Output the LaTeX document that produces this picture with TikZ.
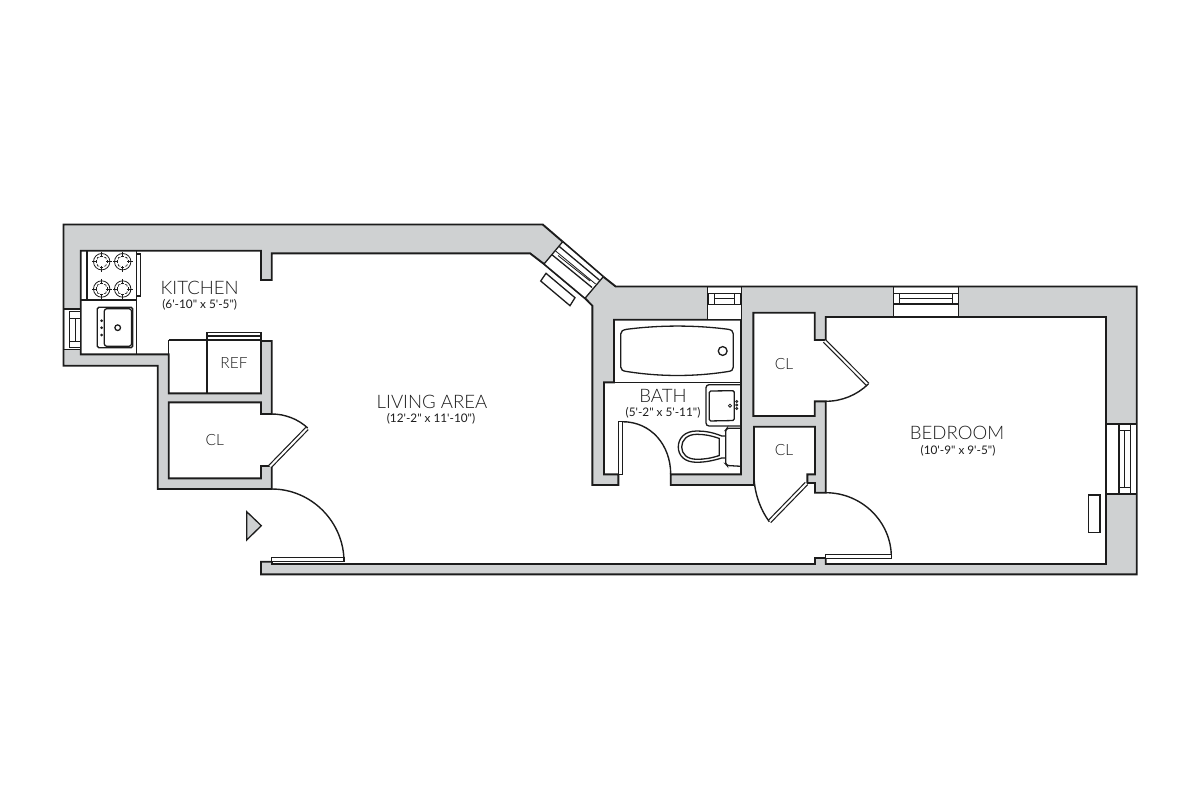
\documentclass[tikz,border=0pt]{standalone}
\usepackage{fontspec}
\setmainfont{Lato Light}
\newfontfamily\dimfont{Lato}
\definecolor{wallgray}{HTML}{CFD1D2}
\definecolor{ink}{HTML}{1C1C1C}
\newcommand{\burnermark}[2]{%
  \begin{scope}[shift={(#1,#2)}]
    \draw[hairline] (0,0) circle (8.2);
    \foreach \a in {0,90,180,270}{\draw[hairline,rotate=\a] (4.6,0) -- (10,0);
      \draw[hairline,rotate=\a] (5.6,-1.6) -- (5.6,1.6);}
    \foreach \a in {45,135,225,315}{\draw[hairline,line width=0.6pt,rotate=\a] (4.8,-1.6) -- (5.9,0) -- (4.8,1.6);}
  \end{scope}}
\tikzset{
  wall/.style={fill=wallgray,draw=ink,line width=1.9pt,line join=miter},
  thinline/.style={draw=ink,line width=1.3pt},
  hairline/.style={draw=ink,line width=0.8pt},
  fixture/.style={draw=ink,line width=1.3pt,fill=white},
  windowgap/.style={fill=white,draw=none},
  doorleaf/.style={draw=ink,line width=1.2pt,double=white,double distance=2pt},
  swing/.style={draw=ink,line width=1.4pt},
  room/.style={font=\fontsize{18.6}{19}\selectfont,text=ink,inner sep=0pt},
  dims/.style={font=\dimfont\fontsize{11.8}{13}\selectfont,text=ink,inner sep=0pt},
  small/.style={font=\fontsize{15.5}{16}\selectfont,text=ink,inner sep=0pt},
}
\begin{document}
\begin{tikzpicture}[x=1pt,y=-1pt]
\useasboundingbox (0,0) rectangle (1200,800);
% walls
\draw[wall] (261,561.7) -- (272,561.7) -- (272,564) -- (815,564) -- (815,558) -- (825.7,558) -- (825.7,564) -- (1106,564)
  -- (1106,317) -- (825.7,317) -- (825.7,340) -- (814.7,340) -- (814.7,312.7) -- (753.3,312.7) -- (753.3,416) -- (814.7,416)
  -- (814.7,401.3) -- (825.7,401.3) -- (825.7,492.7) -- (815,492.7) -- (815,483) -- (807.3,483) -- (807.3,474.3) -- (815,474.3)
  -- (815,426.7) -- (754,426.7) -- (754,485) -- (670.7,485) -- (670.7,474.3) -- (741,474.3) -- (741,319.7) -- (614,319.7)
  -- (614,382.3) -- (604,382.3) -- (604,474.3) -- (618.3,474.3) -- (618.3,485) -- (592.3,485) -- (592.3,305.7) -- (585,298.3)
  -- (544,264) -- (530,253.3) -- (271.7,253.3) -- (271.7,280) -- (261,280) -- (261,250.7) -- (80.7,250.7) -- (80.7,354.3)
  -- (168.7,354.3) -- (168.7,393.3) -- (261,393.3) -- (261,341) -- (271.7,341) -- (271.7,414) -- (261,414) -- (261,402.3)
  -- (168.7,402.3) -- (168.7,478.3) -- (261,478.3) -- (261,466) -- (271.7,466) -- (271.7,489) -- (157.7,489) -- (157.7,365.7)
  -- (63.5,365.7) -- (63.5,224.5) -- (542.7,224.5) -- (562.7,241.7) -- (603.3,276.7) -- (615.7,286.5) -- (1136.7,286.5)
  -- (1136.7,574.3) -- (261,574.3) -- cycle;
% bath partition line under tub
\draw[thinline] (604,382.3) -- (741,382.3);
% left window
\fill[windowgap] (64.5,309) rectangle (79.8,349.3);
\draw[thinline] (63.5,309) -- (80.7,309) (63.5,349.3) -- (80.7,349.3);
\draw[thinline] (69.3,311.7) rectangle (80.7,347.7);
\draw[hairline] (69.3,318.3) -- (80.7,318.3) (69.3,341.7) -- (80.7,341.7) (75,318.3) -- (75,341.7);
% diagonal window
\fill[windowgap] (562.7,241.7) -- (603.3,276.7) -- (585,298.3) -- (544,264) -- cycle;
\draw[thinline] (562.7,241.7) -- (544,264) (603.3,276.7) -- (585,298.3) (562.7,241.7) -- (603.3,276.7) (544,264) -- (585,298.3);
\draw[thinline] (559.3,246.5) -- (599.3,280) (552.3,255) -- (592,287.5);
\draw[hairline] (555.6,251) -- (595.6,284) (558,255.5) -- (590,281);
% radiator diagonal
\draw[fixture] (546,273.3) -- (575,297.7) -- (570,305.7) -- (540.7,281) -- cycle;
% top small window
\fill[windowgap] (707.7,287.5) rectangle (740.7,318.7);
\draw[thinline] (707.7,286.5) -- (707.7,319.7) (741.7,286.5) -- (741.7,319.7);
\draw[thinline] (708.3,293.3) rectangle (740.7,304.3);
\draw[hairline] (714.3,293.3) rectangle (734,304.3) (714.3,298.3) -- (734,298.3);
% bedroom top window
\fill[windowgap] (893.3,287.5) rectangle (958.3,316);
\draw[thinline] (893.3,286.5) -- (893.3,317) (958.3,286.5) -- (958.3,317);
\draw[thinline] (893.3,293.3) -- (958.3,293.3) (893.3,304) -- (958.3,304);
\draw[hairline] (899.3,293.3) rectangle (952.7,304) (899.3,298.3) -- (952.7,298.3);
% right window
\fill[windowgap] (1107,424) rectangle (1135.7,494);
\draw[thinline] (1106,424) -- (1136.7,424) (1106,494) -- (1136.7,494);
\draw[thinline] (1119,424) rectangle (1130.3,494);
\draw[hairline] (1119,430.7) -- (1130.3,430.7) (1119,487.3) -- (1130.3,487.3) (1124.3,430.7) -- (1124.3,487.3);
% radiator bedroom
\draw[thinline] (1088.7,495) rectangle (1100,532.3);
% kitchen
\draw[thinline] (136.7,250.7) -- (136.7,354.3) (80.7,300) -- (136.7,300) (87,250.7) -- (87,300);
\draw[thinline] (136.7,254) rectangle (140.7,296);
\burnermark{101.7}{261.7}\burnermark{122.7}{261.7}\burnermark{101.7}{289}\burnermark{122.7}{289}
\draw[thinline,rounded corners=1.5pt] (97.3,307.3) rectangle (132.7,347.7);
\draw[thinline,rounded corners=2.5pt] (104.3,308.7) rectangle (131.5,346.3);
\draw[thinline] (117.7,327.7) circle (2.8);
\foreach \yy in {320.7,327.7,335}{\fill[ink] (101.7,\yy) circle (1.5);}
% ref
\draw[thinline] (168.7,340) -- (168.7,354.3) (168.7,340) -- (261,340) (207,340) -- (207,393.3);
\draw[thinline] (207,340) -- (207,332.7) -- (261,332.7) -- (261,340) (207,336) -- (261,336);
% closet door 1
\draw[doorleaf] (270,466.5) -- (307,428.5);
\draw[swing] (271.7,414) .. controls (285,414) and (298,419) .. (307.7,428);
% entry door
\draw[swing] (271.7,489) .. controls (311.5,489) and (344,522) .. (344,561.7);
\draw[thinline,fill=white] (271.7,557.7) rectangle (344,561.7);
% entry marker
\draw[thinline,fill=wallgray] (246.7,511.7) -- (261.3,525.7) -- (246.7,540) -- cycle;
% tub
\draw[thinline] (626.7,329.3) .. controls (660,325) and (695,325) .. (728.3,329.3)
  .. controls (731.5,330) and (733.3,331) .. (733.3,334) -- (733.3,367)
  .. controls (733.3,370) and (731.5,371) .. (728.3,371.5)
  .. controls (695,376.8) and (660,376.8) .. (626.7,371.5)
  .. controls (623,371) and (620.7,370) .. (620.7,367) -- (620.7,334)
  .. controls (620.7,331) and (623,330) .. (626.7,329.3) -- cycle;
\draw[thinline] (722.7,351) circle (4.4);
% bath door
\draw[thinline,fill=white] (618.3,421.7) rectangle (622.3,474.3);
\draw[swing] (622.3,421.7) .. controls (651,421.7) and (670.7,445) .. (670.7,474.3);
% bath sink
\draw[thinline,rounded corners=3pt] (741,384.7) -- (706,384.7) -- (706,426) -- (741,426);
\draw[thinline,rounded corners=1.5pt] (709.3,391) -- (734.3,390.7) -- (734.3,420.5) -- (709.3,421) -- cycle;
\draw[hairline] (730,405.7) circle (1.6);
\foreach \yy in {401.5,405,408.5}{\draw[hairline] (736.7,\yy) circle (1.1);}
% toilet
\draw[thinline,rounded corners=1.5pt] (741,428.3) -- (727,428.3) -- (725.7,430) -- (725.7,464) -- (727,465.5) -- (741,466.3);
\draw[thinline] (725.7,436) -- (721.7,436) .. controls (712,432) and (704,431) .. (696.7,431)
  .. controls (685,431) and (678.3,438) .. (678.3,447)
  .. controls (678.3,456) and (685,462.3) .. (696.7,462.3)
  .. controls (704,462.3) and (712,461) .. (721.7,458) -- (725.7,458);
\draw[thinline] (719.3,438.5) .. controls (711,435.5) and (704,434.3) .. (697,434.3)
  .. controls (687,434.3) and (681.7,440) .. (681.7,447)
  .. controls (681.7,454) and (687,459.3) .. (697,459.3)
  .. controls (704,459.3) and (711,458.3) .. (719.3,455.5) -- cycle;
% bedroom closet doors
\draw[doorleaf] (824.5,341) -- (867.8,384.5);
\draw[swing] (825.7,401.3) .. controls (842,401.3) and (857,395) .. (868.3,384);
\draw[doorleaf] (806.5,483.5) -- (769.5,521.5);
\draw[swing] (754,475) .. controls (754,492) and (760,509) .. (769.3,521.7);
% bedroom door
\draw[swing] (825.7,492.7) .. controls (862,492.7) and (891.3,522) .. (891.3,556.7);
\draw[thinline,fill=white] (825.7,554.3) rectangle (891.3,558.3);
% labels
\node[room] (kitchen) at (199.7,287.7) {KITCHEN};
\node[dims] (kitchendim) at (199.7,304.8) {(6'-10" x 5'-5")};
\node[small] (ref) at (234,362.7) {REF};
\node[small] (cla) at (214.7,440) {CL};
\node[room] (living) at (432,402) {LIVING AREA};
\node[dims] (livingdim) at (431,418.5) {(12'-2" x 11'-10")};
\node[room] (bath) at (663,396) {BATH};
\node[dims] (bathdim) at (663,413) {(5'-2" x 5'-11")};
\node[small] (clb) at (784,364.3) {CL};
\node[small] (clc) at (784,450) {CL};
\node[room] (bedroom) at (957,433) {BEDROOM};
\node[dims] (bedroomdim) at (958,450.5) {(10'-9" x 9'-5")};
\end{tikzpicture}
\end{document}
